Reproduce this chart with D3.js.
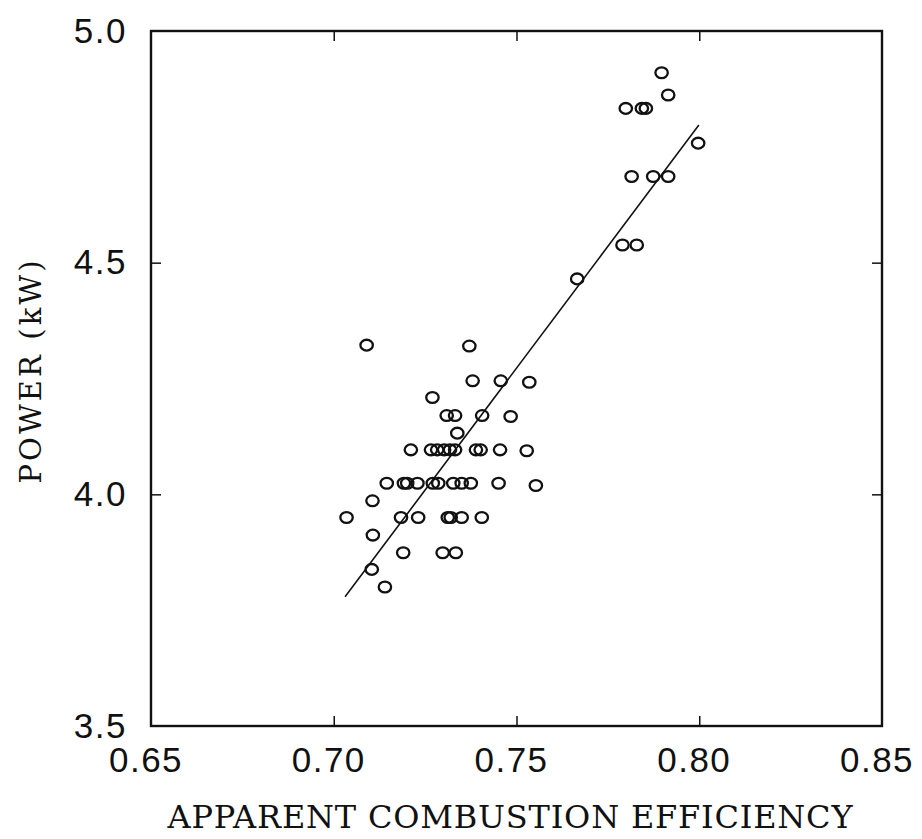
<!DOCTYPE html>
<html>
<head>
<meta charset="utf-8">
<script src="https://cdn.jsdelivr.net/npm/d3@7"></script>
<style>
  html, body { margin: 0; padding: 0; background: #fff; }
  svg { display: block; }
</style>
</head>
<body>
<svg id="chart" width="922" height="839"></svg>
<script>
// Apparent combustion efficiency (x) and power in kW (y)
const efficiency = [
  0.7897, 0.7915, 0.7799, 0.7843, 0.7854, 0.7997, 0.7815, 0.7874, 0.7915, 0.7790, 0.7829, 0.7666,
  0.7090, 0.7371, 0.7380, 0.7457, 0.7535, 0.7270,
  0.7309, 0.7332, 0.7406, 0.7484, 0.7338,
  0.7211, 0.7266, 0.7283, 0.7302, 0.7318, 0.7332, 0.7389, 0.7402, 0.7455, 0.7528,
  0.7145, 0.7192, 0.7201, 0.7229, 0.7271, 0.7286, 0.7327, 0.7350, 0.7375, 0.7451, 0.7553,
  0.7106,
  0.7035, 0.7184, 0.7231, 0.7312, 0.7320, 0.7350, 0.7405,
  0.7107,
  0.7190, 0.7298, 0.7334,
  0.7104, 0.7140
];
const power = [
  4.910, 4.862, 4.833, 4.833, 4.833, 4.758, 4.686, 4.686, 4.686, 4.538, 4.538, 4.465,
  4.322, 4.320, 4.245, 4.245, 4.242, 4.209,
  4.170, 4.170, 4.170, 4.168, 4.132,
  4.096, 4.096, 4.096, 4.096, 4.096, 4.096, 4.096, 4.096, 4.096, 4.094,
  4.024, 4.024, 4.024, 4.024, 4.024, 4.024, 4.024, 4.024, 4.024, 4.024, 4.019,
  3.986,
  3.950, 3.950, 3.950, 3.950, 3.950, 3.950, 3.950,
  3.912,
  3.874, 3.874, 3.874,
  3.838, 3.800
];
// Fitted line end points
const fitX = [0.7031, 0.7999];
const fitY = [3.779, 4.797];

const xTicks = [0.65, 0.70, 0.75, 0.80, 0.85];
const yTicks = [3.5, 4.0, 4.5, 5.0];
const xTitle = "APPARENT COMBUSTION EFFICIENCY";
const yTitle = "POWER (kW)";

const svg = d3.select("#chart");
const L = 151, R = 882, T = 31, B = 726;
const x = d3.scaleLinear().domain([0.65, 0.85]).range([L, R]);
const y = d3.scaleLinear().domain([3.5, 5.0]).range([B, T]);

const ink = "#111";

// frame
svg.append("rect")
  .attr("x", L).attr("y", T).attr("width", R - L).attr("height", B - T)
  .attr("fill", "none").attr("stroke", ink).attr("stroke-width", 2.4);

// inward ticks via axes
const inner = [0.70, 0.75, 0.80];
const innerY = [4.0, 4.5];
svg.append("g").attr("transform", `translate(0,${B})`)
  .call(d3.axisTop(x).tickValues(inner).tickSize(10).tickFormat(""))
  .call(g => g.select(".domain").remove())
  .call(g => g.selectAll("line").attr("stroke", ink).attr("stroke-width", 1.5));
svg.append("g").attr("transform", `translate(0,${T})`)
  .call(d3.axisBottom(x).tickValues(inner).tickSize(10).tickFormat(""))
  .call(g => g.select(".domain").remove())
  .call(g => g.selectAll("line").attr("stroke", ink).attr("stroke-width", 1.5));
svg.append("g").attr("transform", `translate(${L},0)`)
  .call(d3.axisRight(y).tickValues(innerY).tickSize(10).tickFormat(""))
  .call(g => g.select(".domain").remove())
  .call(g => g.selectAll("line").attr("stroke", ink).attr("stroke-width", 1.5));
svg.append("g").attr("transform", `translate(${R},0)`)
  .call(d3.axisLeft(y).tickValues(innerY).tickSize(10).tickFormat(""))
  .call(g => g.select(".domain").remove())
  .call(g => g.selectAll("line").attr("stroke", ink).attr("stroke-width", 1.5));

// tick labels
svg.append("g").selectAll("text").data(xTicks).join("text")
  .attr("x", d => x(d) - 5).attr("y", 772)
  .attr("text-anchor", "middle")
  .attr("font-family", "'Liberation Sans', Arial, sans-serif")
  .attr("font-size", 35).attr("letter-spacing", 1.5).attr("fill", ink)
  .text(d => d3.format(".2f")(d));
svg.append("g").selectAll("text").data(yTicks).join("text")
  .attr("x", 127).attr("y", d => y(d) - 1)
  .attr("text-anchor", "end").attr("dominant-baseline", "central")
  .attr("font-family", "'Liberation Sans', Arial, sans-serif")
  .attr("font-size", 35).attr("letter-spacing", 1.5).attr("fill", ink)
  .text(d => d3.format(".1f")(d));

// axis titles
svg.append("text")
  .attr("x", 510).attr("y", 828).attr("text-anchor", "middle")
  .attr("font-family", "'DejaVu Serif', 'Liberation Serif', serif")
  .attr("font-size", 32).attr("fill", ink)
  .attr("textLength", 685).attr("lengthAdjust", "spacing")
  .text(xTitle);
svg.append("text")
  .attr("transform", "translate(41,372) rotate(-90)")
  .attr("text-anchor", "middle")
  .attr("font-family", "'DejaVu Serif', 'Liberation Serif', serif")
  .attr("font-size", 29).attr("fill", ink)
  .attr("textLength", 223).attr("lengthAdjust", "spacing")
  .text(yTitle);

// regression line
svg.append("line")
  .attr("x1", x(fitX[0])).attr("y1", y(fitY[0]))
  .attr("x2", x(fitX[1])).attr("y2", y(fitY[1]))
  .attr("stroke", ink).attr("stroke-width", 1.6);

// points
const pts = efficiency.map((e, i) => [e, power[i]]);
svg.append("g").selectAll("ellipse").data(pts).join("ellipse")
  .attr("cx", d => x(d[0])).attr("cy", d => y(d[1]))
  .attr("rx", 6.2).attr("ry", 5.4)
  .attr("fill", "none").attr("stroke", ink).attr("stroke-width", 2.3);
</script>
</body>
</html>
